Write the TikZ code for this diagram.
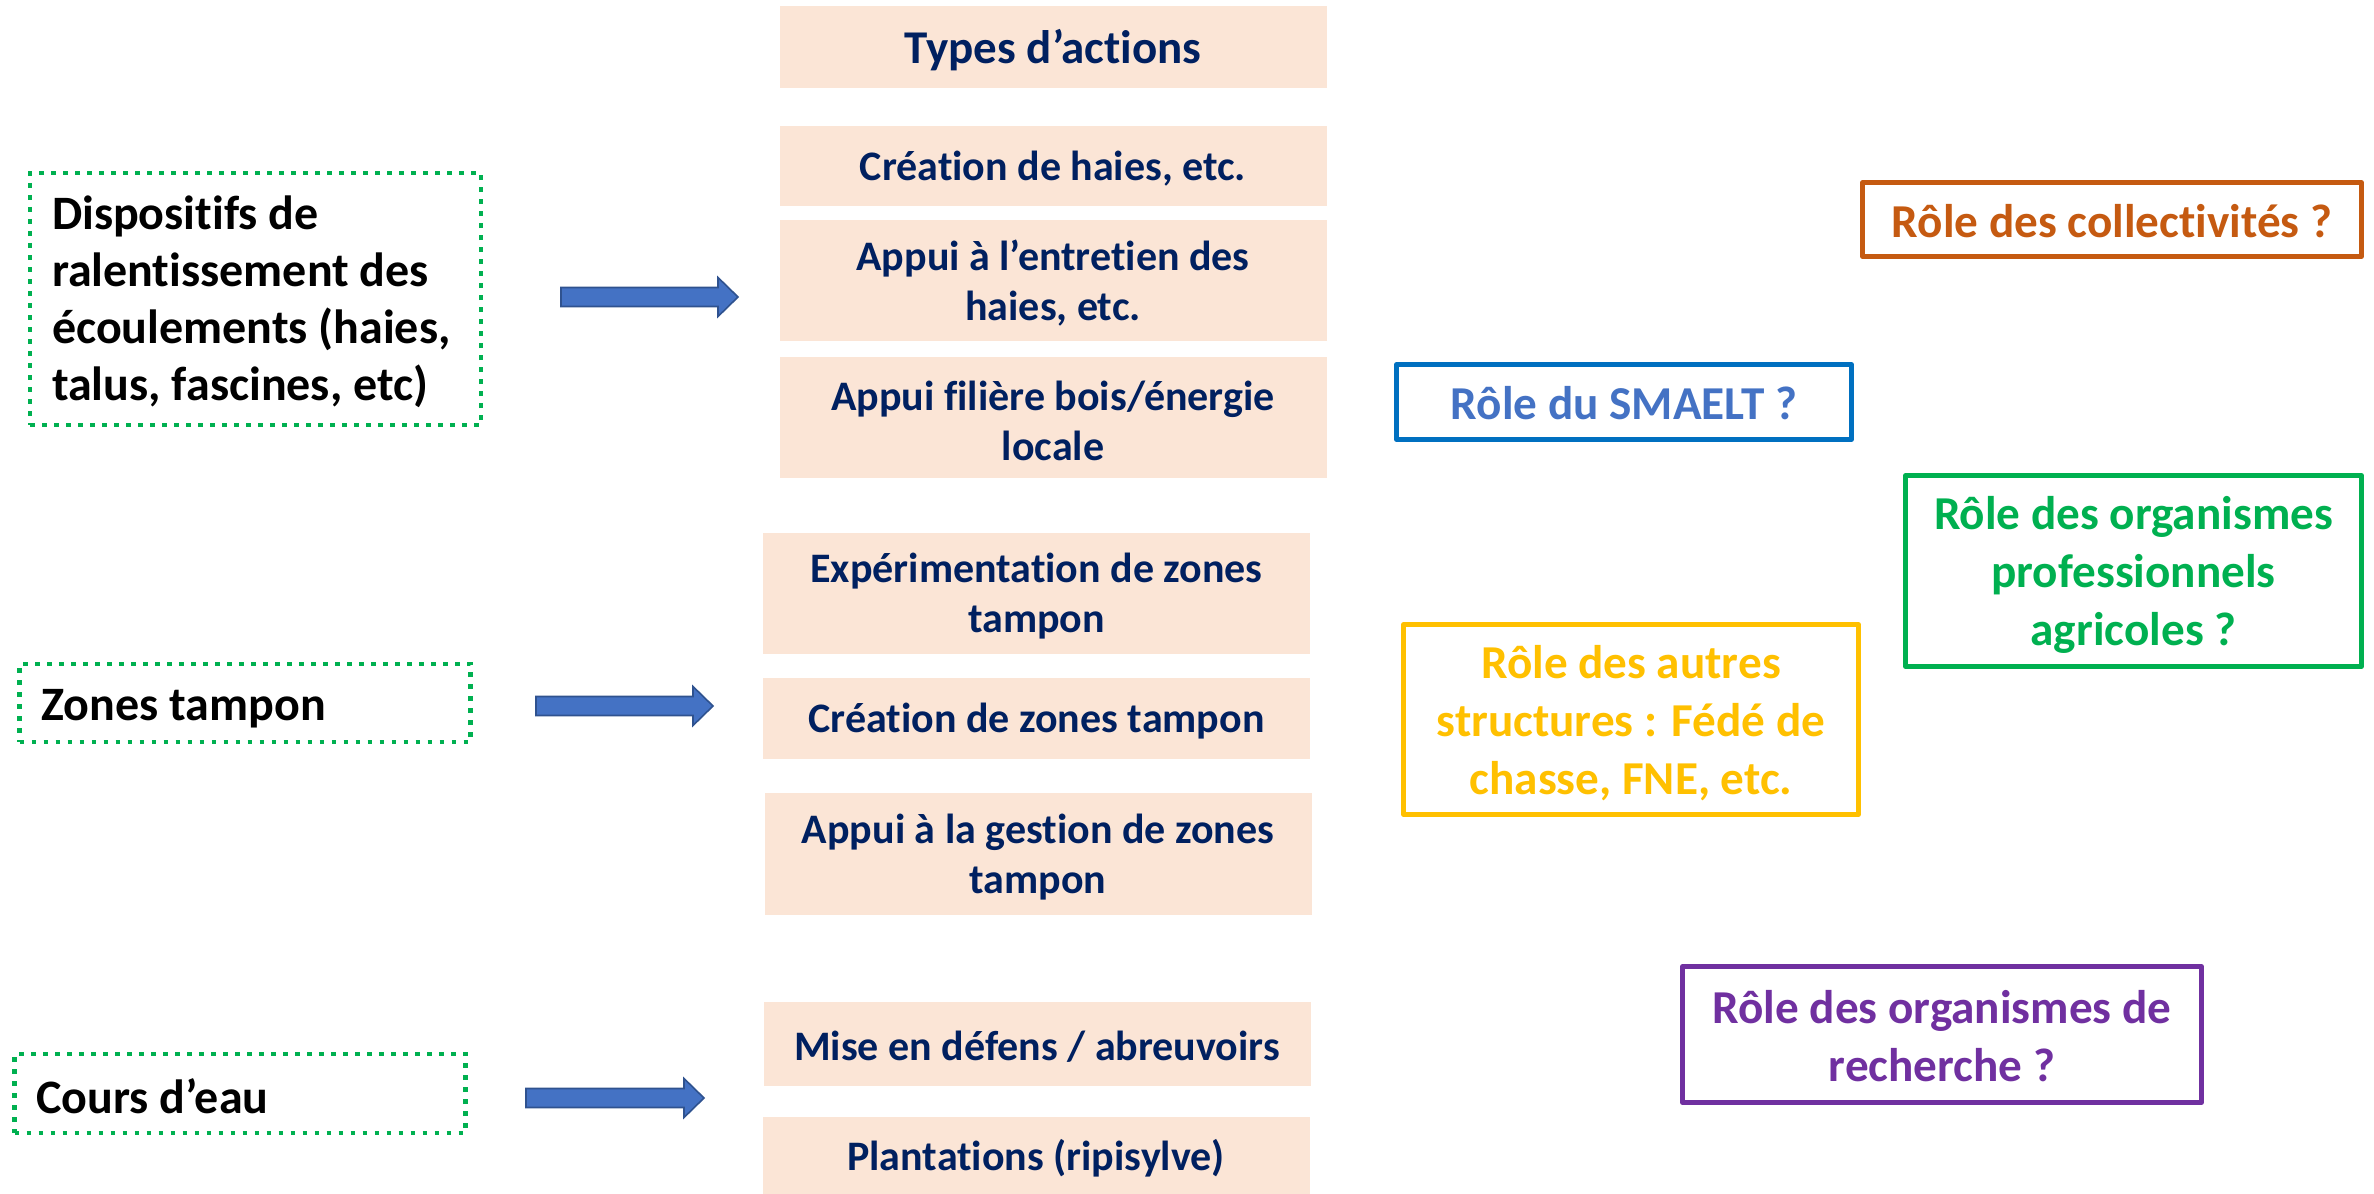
\documentclass[tikz,border=0pt]{standalone}
\usepackage{fontspec}
\setmainfont{Carlito}[Ligatures=NoCommon]
\usetikzlibrary{calc}
\definecolor{peach}{HTML}{FBE5D6}
\definecolor{navy}{HTML}{002060}
\definecolor{dotgreen}{HTML}{00B050}
\definecolor{arrfill}{HTML}{4472C4}
\definecolor{arrdraw}{HTML}{2F528F}
\definecolor{rorange}{HTML}{C55A11}
\definecolor{rblue}{HTML}{0070C0}
\definecolor{rbluetext}{HTML}{4472C4}
\definecolor{rgreen}{HTML}{00B050}
\definecolor{rgold}{HTML}{FFC000}
\definecolor{rpurple}{HTML}{7030A0}
\newcommand{\blkarrow}[2]{%
  \draw[blockarrow] ($(#1)+(0,-9.5)$) -- ($(#2)+(-20,-9.5)$) -- ($(#2)+(-20,-19.5)$) -- (#2)
    -- ($(#2)+(-20,19.5)$) -- ($(#2)+(-20,9.5)$) -- ($(#1)+(0,9.5)$) -- cycle;}
% text node placed in box #1, shifted down by #2 px
\newcommand{\boxtext}[4]{\node[#3] (#1t) at ($(#1)+(0,#2)$) {#4};}
\tikzset{
  actbox/.style={fill=peach, inner sep=0pt, minimum width=273.5pt},
  acttext/.style={text=navy, font=\bfseries\fontsize{21}{25}\selectfont, align=center, inner sep=0pt},
  leftbox/.style={draw=dotgreen, line width=2.35pt, dash pattern=on 2.35pt off 3.65pt,
    inner sep=0pt, minimum width=225.5pt},
  lefttext/.style={font=\bfseries\fontsize{24}{28.5}\selectfont, text=black, align=flush left,
    inner sep=0pt, text width=203.5pt},
  rolebox/.style={line width=2.35pt, inner sep=0pt, line join=round},
  roletext/.style={inner sep=0pt, align=center, font=\bfseries\fontsize{23.6}{29}\selectfont},
  blockarrow/.style={fill=arrfill, draw=arrdraw, line width=0.8pt, line join=miter}
}
\begin{document}
\begin{tikzpicture}[x=0.5pt,y=-0.5pt]
\useasboundingbox (0,0) rectangle (2374,1194);

% left category boxes
\node[leftbox, minimum height=126pt] (L1) at (255.5,299) {};
\node[leftbox, minimum height=39pt] (L2) at (245,703) {};
\node[leftbox, minimum height=39.5pt] (L3) at (240,1093.5) {};
\boxtext{L1}{3}{lefttext}{Dispositifs de\\ralentissement des\\écoulements (haies,\\talus, fascines, etc)}
\boxtext{L2}{6}{lefttext}{Zones tampon}
\boxtext{L3}{3}{lefttext}{Cours d’eau}

% action boxes
\node[actbox, minimum height=41pt] (T) at (1053,47) {};
\node[actbox, minimum height=40pt] (a1) at (1053,166) {};
\node[actbox, minimum height=60.5pt] (a2) at (1053,280.5) {};
\node[actbox, minimum height=60.5pt] (a3) at (1053,417.5) {};
\node[actbox, minimum height=60.5pt] (b1) at (1036.5,593.5) {};
\node[actbox, minimum height=40.5pt] (b2) at (1036.5,718.5) {};
\node[actbox, minimum height=61pt] (b3) at (1038,854) {};
\node[actbox, minimum height=42pt] (c1) at (1037,1044) {};
\node[actbox, minimum height=38.5pt] (c2) at (1036,1155.5) {};

\boxtext{T}{3}{acttext, font=\bfseries\fontsize{23.5}{27}\selectfont}{Types d’actions}
\boxtext{a1}{3}{acttext}{Création de haies, etc.}
\boxtext{a2}{3}{acttext}{Appui à l’entretien des\\haies, etc.}
\boxtext{a3}{3}{acttext}{Appui filière bois/énergie\\locale}
\boxtext{b1}{3}{acttext}{Expérimentation de zones\\tampon}
\boxtext{b2}{3}{acttext}{Création de zones tampon}
\boxtext{b3}{3}{acttext}{Appui à la gestion de zones\\tampon}
\boxtext{c1}{3}{acttext}{Mise en défens / abreuvoirs}
\boxtext{c2}{3}{acttext}{Plantations (ripisylve)}

% arrows
\coordinate (A1s) at (561,297);  \coordinate (A1e) at (738,297);
\coordinate (A2s) at (536,706);  \coordinate (A2e) at (713,706);
\coordinate (A3s) at (526,1098); \coordinate (A3e) at (704,1098);
\blkarrow{A1s}{A1e}
\blkarrow{A2s}{A2e}
\blkarrow{A3s}{A3e}

% role boxes
\node[rolebox, draw=rorange, minimum width=249.5pt, minimum height=37pt] (R1) at (2112,219.5) {};
\node[rolebox, draw=rblue, minimum width=227.5pt, minimum height=37.5pt] (R2) at (1624,402) {};
\node[rolebox, draw=rgreen, minimum width=228pt, minimum height=95.5pt] (R3) at (2133.5,571) {};
\node[rolebox, draw=rgold, minimum width=227.5pt, minimum height=95pt] (R4) at (1631,719.5) {};
\node[rolebox, draw=rpurple, minimum width=259.5pt, minimum height=68pt] (R5) at (1942,1034.5) {};
\boxtext{R1}{2}{roletext, text=rorange}{Rôle des collectivités ?}
\boxtext{R2}{1}{roletext, text=rbluetext}{Rôle du SMAELT ?}
\boxtext{R3}{4}{roletext, text=rgreen}{Rôle des organismes\\professionnels\\agricoles ?}
\boxtext{R4}{4}{roletext, text=rgold}{Rôle des autres\\structures : Fédé de\\chasse, FNE, etc.}
\boxtext{R5}{2}{roletext, text=rpurple}{Rôle des organismes de\\recherche ?}
\end{tikzpicture}
\end{document}
